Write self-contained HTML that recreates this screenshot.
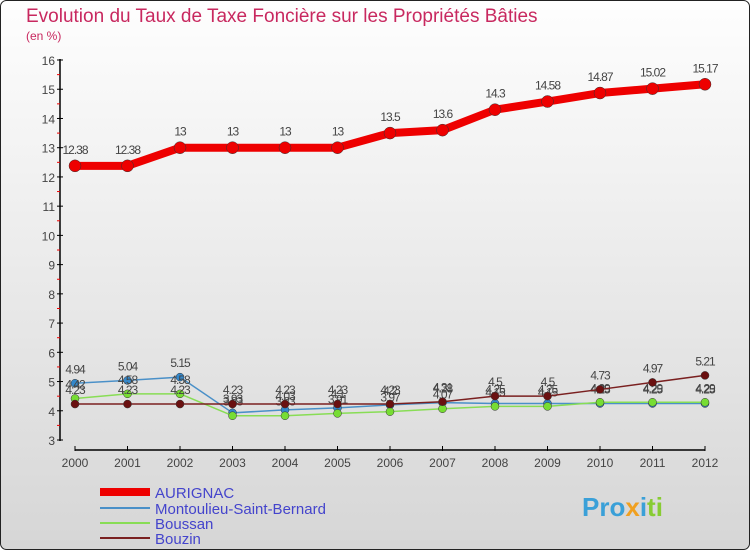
<!DOCTYPE html>
<html><head><meta charset="utf-8"><style>
body{margin:0;width:750px;height:550px;overflow:hidden;font-family:"Liberation Sans",sans-serif}
</style></head><body>
<svg width="750" height="550" xmlns="http://www.w3.org/2000/svg">
<defs><linearGradient id="bg" x1="0" y1="0" x2="0" y2="1"><stop offset="0" stop-color="#fefefe"/><stop offset="1" stop-color="#d6d6d6"/></linearGradient></defs>
<rect x="0.5" y="0.5" width="749" height="549" rx="6" fill="url(#bg)" stroke="#222"/>
<text x="26" y="22" font-size="19" fill="#c8285f">Evolution du Taux de Taxe Foncière sur les Propriétés Bâties</text>
<text x="26" y="40" font-size="12" fill="#c8285f">(en %)</text>
<g id="axes"></g><g id="series"></g>
<g>
<line x1="100" y1="492" x2="150" y2="492" stroke="#ee0000" stroke-width="8"/>
<text x="155" y="498" font-size="15" fill="#4444cc">AURIGNAC</text>
<line x1="100" y1="508" x2="150" y2="508" stroke="#4a90c8" stroke-width="2"/>
<text x="155" y="514" font-size="15" fill="#4444cc">Montoulieu-Saint-Bernard</text>
<line x1="100" y1="523" x2="150" y2="523" stroke="#88dd55" stroke-width="2"/>
<text x="155" y="529" font-size="15" fill="#4444cc">Boussan</text>
<line x1="100" y1="538" x2="150" y2="538" stroke="#7a2020" stroke-width="2"/>
<text x="155" y="544" font-size="15" fill="#4444cc">Bouzin</text>
</g>
<text x="582" y="516" font-size="26" font-weight="bold" fill="#3aa0d8">Pro<tspan fill="#f0a020">x</tspan><tspan fill="#3aa0d8">i</tspan><tspan fill="#88cc33">ti</tspan></text>
</svg>
<script>
const years=[2000,2001,2002,2003,2004,2005,2006,2007,2008,2009,2010,2011,2012];
const yTicks=[3,4,5,6,7,8,9,10,11,12,13,14,15,16];
const aurignac=[12.38,12.38,13,13,13,13,13.5,13.6,14.3,14.58,14.87,15.02,15.17];
const montoulieu=[4.94,5.04,5.15,3.93,4.03,4.1,4.2,4.28,4.25,4.25,4.25,4.25,4.25];
const boussan=[4.42,4.58,4.58,3.83,3.83,3.91,3.97,4.07,4.15,4.15,4.29,4.29,4.29];
const bouzin=[4.23,4.23,4.23,4.23,4.23,4.23,4.23,4.31,4.5,4.5,4.73,4.97,5.21];
const NS="http://www.w3.org/2000/svg";
const xS=i=>75+i*52.5, yS=v=>440-(v-3)*29.23;
function mk(tag,attrs,parent,txt){const e=document.createElementNS(NS,tag);for(const k in attrs)e.setAttribute(k,attrs[k]);if(txt!=null)e.textContent=txt;parent.appendChild(e);return e;}
const ax=document.getElementById('axes');
let a=mk('line',{x1:60,y1:59,x2:60,y2:441,stroke:'#000','stroke-width':1.5},ax);


a=mk('line',{x1:75,y1:450,x2:705,y2:450,stroke:'#000','stroke-width':1.5},ax);


yTicks.forEach(v=>{const y=yS(v);
 mk('line',{x1:57,y1:y,x2:63,y2:y,stroke:'#000'},ax);
 if(v<16)mk('line',{x1:57,y1:y-14.6,x2:60,y2:y-14.6,stroke:'#e00'},ax);
 const t=mk('text',{x:55,y:y+5,'font-size':12,fill:'#444','text-anchor':'end'},ax,v);
 
 });
years.forEach((yr,i)=>{const x=xS(i);
 mk('line',{x1:x,y1:446,x2:x,y2:451,stroke:'#000'},ax);
 const t=mk('text',{x:x,y:467,'font-size':12,fill:'#444','text-anchor':'middle'},ax,yr);
 
 });
const sg=document.getElementById('series');
function series(data,name,color,w,r,dot,dy){
 const g=mk('g',{},sg);
 
 
 mk('polyline',{points:data.map((v,i)=>xS(i)+','+yS(v)).join(' '),fill:'none',stroke:color,'stroke-width':w,'stroke-linejoin':'round'},g);
 data.forEach((v,i)=>{const c=mk('circle',{cx:xS(i),cy:yS(v),r:r,fill:dot,stroke:'#333','stroke-width':0.5},g);
  
  
  const t=mk('text',{x:xS(i),y:yS(v)-dy,'font-size':12,fill:'#444','text-anchor':'middle','letter-spacing':'-1'},g,String(v));
  
  });
}
series(montoulieu,'montoulieu','#4a90c8',1.5,4,'#3388cc',10);
series(boussan,'boussan','#88dd55',1.5,4,'#77dd33',10);
series(bouzin,'bouzin','#7a2020',1.5,4,'#6a1010',10);
series(aurignac,'aurignac','#ee0000',8,6,'#ee0000',12);
</script>
</body></html>
